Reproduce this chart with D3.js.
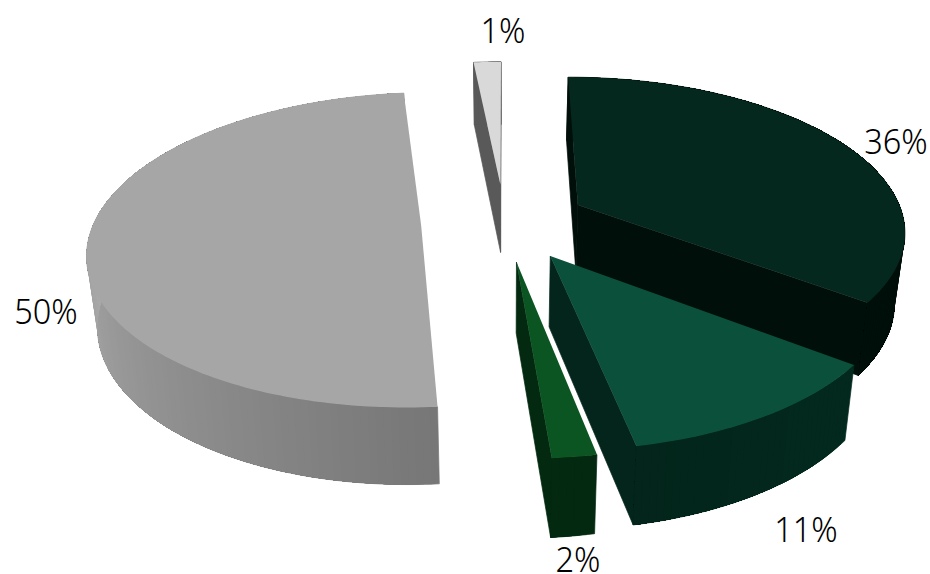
<!DOCTYPE html>
<html><head><meta charset="utf-8">
<script src="https://d3js.org/d3.v7.min.js"></script>
<style>html,body{margin:0;padding:0;background:#fff}svg{display:block}
text{font-family:"Noto Sans",sans-serif;fill:#000}</style></head>
<body><svg id="c" width="930" height="574"></svg>
<script>
const labels = ["36%","11%","2%","50%","1%"];
const values = [35.3,11.6,1.8,49.7,1.6];
const topColors = ["#04281d","#0b503b","#0a5522","#a6a6a6","#d9d9d9"];
const wallColors = ["#010f0a","#03251b","#032a10","#8a8a8a","#595959"];
const sideFrom = ["#010f0a","#03291e","#032a10","#777777","#595959"];
const sideTo = ["#010f0a","#03251b","#032a10","#a8a8a8","#595959"];
const drawOrder = [3,4,0,1,2];

const svg = d3.select("#c");
const view = {cx:504.5, cy:222, rx:327, ry:152.5, k:0.155, explode:0.255, vx:505, shrink:0.974, d0:60, d1:0.042};
const pie = d3.pie().sort(null).value(d=>d);
const arcs = pie(values);

function project(X,Y){const s=1/(1+view.k*Y);return [view.cx+view.rx*X*s, view.cy-view.ry*Y*s];}
function drop(p){return [view.vx+(p[0]-view.vx)*view.shrink, p[1]+view.d0+view.d1*p[1]];}
const line=d3.line();

arcs.forEach((a,i)=>{a.i=i;a.mid=(a.startAngle+a.endAngle)/2;a.ox=view.explode*Math.sin(a.mid);a.oy=view.explode*Math.cos(a.mid);});
function pt(a,ang,r=1){return project(a.ox+r*Math.sin(ang),a.oy+r*Math.cos(ang));}

drawOrder.forEach(i=>{
  const a=arcs[i], g=svg.append("g");
  const n=Math.max(6,Math.round((a.endAngle-a.startAngle)/0.02));
  const angs=d3.range(n+1).map(j=>a.startAngle+(a.endAngle-a.startAngle)*j/n);
  const apex=pt(a,0,0);
  // walls: only the ones that face the viewer
  [[a.startAngle,1],[a.endAngle,-1]].forEach(([t,side])=>{
    const e=pt(a,t), poly=[apex,e,drop(e),drop(apex)];
    if(d3.polygonArea(poly)*side<=0) return;
    g.append("path").attr("d",line(poly)+"Z").attr("fill",wallColors[i])
      .attr("stroke",wallColors[i]).attr("stroke-width",0.7).attr("stroke-linejoin","round");
  });
  // outer side facets: each one runs to the end of the arc, so no seams appear between them
  const col=d3.scaleLinear().domain([a.startAngle,Math.min(a.startAngle+Math.PI/2,a.endAngle)])
    .range([sideFrom[i],sideTo[i]]).clamp(true);
  for(let j=0;j<n;j++){
    const rest=angs.slice(j).map(t=>pt(a,t));
    const f=g.append("path").attr("d",line([...rest,...rest.map(drop).reverse()])+"Z").attr("fill",col(angs[j]));
    if(j===0) f.attr("stroke",col(angs[j])).attr("stroke-width",0.7);
  }
  // top
  g.append("path").attr("d",line([apex,...angs.map(t=>pt(a,t))])+"Z").attr("fill",topColors[i]);
});

const labelAt=[[896,141],[806,529],[578,559],[46,311],[503,30]];
labels.forEach((t,i)=>{
  svg.append("text").attr("transform",`translate(${labelAt[i][0]},${labelAt[i][1]+12.5}) scale(0.93,1)`)
    .attr("text-anchor","middle").attr("font-size",35).attr("font-weight",350).text(t);
});
</script></body></html>
